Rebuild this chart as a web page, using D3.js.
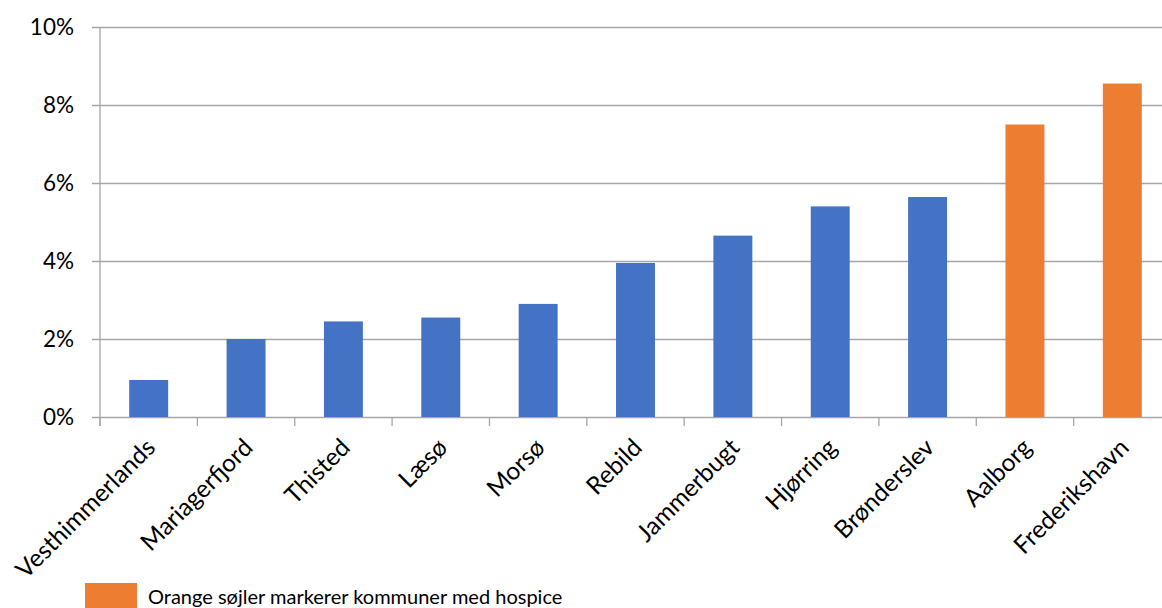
<!DOCTYPE html>
<html>
<head>
<meta charset="utf-8">
<script src="https://cdn.jsdelivr.net/npm/d3@7"></script>
<style>
  body { margin: 0; background: #fff; }
  svg { display: block; font-family: Lato, "Noto Sans", sans-serif; }
</style>
</head>
<body>
<svg id="chart" width="1162" height="608"></svg>
<script>
// kommuner, sorted ascending
const kommuner = ["Vesthimmerlands", "Mariagerfjord", "Thisted", "Læsø", "Morsø", "Rebild",
                  "Jammerbugt", "Hjørring", "Brønderslev", "Aalborg", "Frederikshavn"];
const andel = [0.95, 2.0, 2.45, 2.55, 2.9, 3.95, 4.65, 5.4, 5.64, 7.5, 8.55];
const hospice = ["Aalborg", "Frederikshavn"];
const yTicks = [0, 2, 4, 6, 8, 10];
const legendText = "Orange søjler markerer kommuner med hospice";

const blue = "#4472C4", orange = "#ED7D31", grid = "#A6A6A6";

var margin = {top: 27, left: 100, bottom: 191},
    width = 1071,
    height = 608 - margin.top - margin.bottom;

var svg = d3.select("#chart")
  .append("g")
  .attr("transform", "translate(" + margin.left + "," + margin.top + ")");

const x = d3.scaleBand()
  .domain(kommuner)
  .range([0, width])
  .paddingInner(0.6)
  .paddingOuter(0.3);

const y = d3.scaleLinear()
  .domain([0, 10])
  .range([height, 0]);

// gridlines + y labels
const yAxis = svg.append("g")
  .call(d3.axisLeft(y)
    .tickValues(yTicks)
    .tickSize(-width)
    .tickPadding(26)
    .tickFormat(d => d + "%"));
yAxis.select(".domain").remove();
yAxis.selectAll(".tick line").attr("stroke", grid).attr("stroke-width", 1.3).attr("x1", -8);
yAxis.selectAll(".tick text")
  .attr("font-size", 22.5)
  .attr("fill", "#000")
  .attr("font-family", "Lato, sans-serif");

// vertical axis line
svg.append("line")
  .attr("x1", 0).attr("x2", 0)
  .attr("y1", 0).attr("y2", height + 9)
  .attr("stroke", grid).attr("stroke-width", 1.3);

// category tick marks at band boundaries
const step = x.step();
svg.append("g").selectAll("line")
  .data(kommuner)
  .enter().append("line")
  .attr("x1", (d, i) => i * step)
  .attr("x2", (d, i) => i * step)
  .attr("y1", height)
  .attr("y2", height + 9)
  .attr("stroke", grid).attr("stroke-width", 1.3);

// bars
svg.selectAll(".bar")
  .data(kommuner)
  .enter().append("rect")
  .attr("class", "bar")
  .attr("x", d => x(d))
  .attr("width", x.bandwidth())
  .attr("y", (d, i) => y(andel[i]))
  .attr("height", (d, i) => height - y(andel[i]))
  .style("fill", d => hospice.includes(d) ? orange : blue);

// rotated category labels
svg.append("g").selectAll("text")
  .data(kommuner)
  .enter().append("text")
  .attr("transform", d => "translate(" + (x(d) + x.bandwidth() / 2 + 2) + "," + (height + 26) + ") rotate(-45)")
  .attr("text-anchor", "end")
  .attr("dy", "0.35em")
  .attr("font-size", 24.5)
  .attr("fill", "#000")
  .text(d => d);

// legend
const legend = d3.select("#chart").append("g");
legend.append("rect")
  .attr("x", 85).attr("y", 583)
  .attr("width", 52).attr("height", 26)
  .style("fill", orange);
legend.append("text")
  .attr("x", 148).attr("y", 604)
  .attr("font-size", 20)
  .attr("fill", "#000")
  .text(legendText);
</script>
</body>
</html>
